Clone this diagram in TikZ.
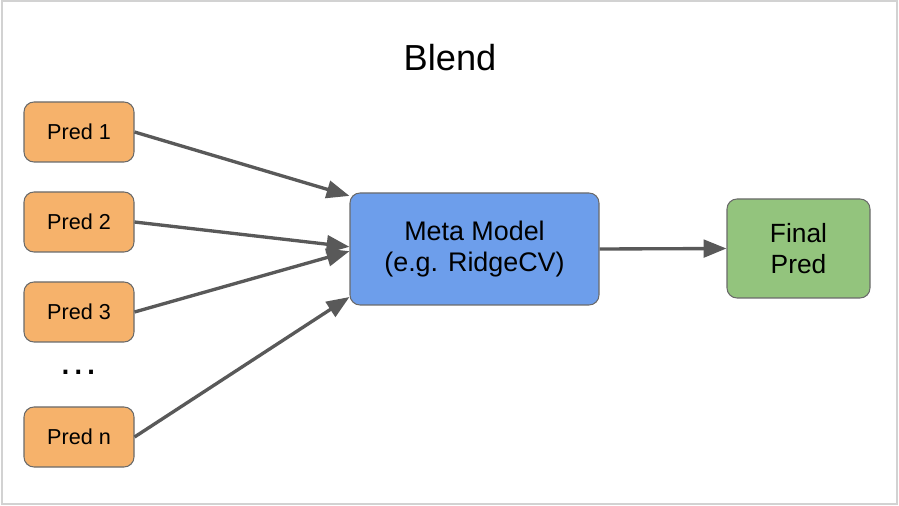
\documentclass[tikz,border=0pt]{standalone}
\usepackage{fontspec}
\setmainfont{Liberation Sans}
\usepackage{tikz}
\usetikzlibrary{arrows.meta}

\definecolor{predorange}{HTML}{F6B26B}
\definecolor{metablue}{HTML}{6D9EEB}
\definecolor{finalgreen}{HTML}{93C47D}
\definecolor{edgegray}{HTML}{595959}

\begin{document}
\begin{tikzpicture}[
        box/.style={draw=edgegray!90, line width=0.6pt, rounded corners=0.2cm, align=center, inner sep=0pt},
        pred/.style={box, fill=predorange, minimum width=2.2cm, minimum height=1.2cm, font=\fontsize{12.3}{14}\selectfont},
        feed/.style={draw=edgegray, line width=1.9pt, -{Triangle[length=13pt,width=10pt]}}
    ]
        \useasboundingbox (0,0) rectangle (17.98,10.1);
        \draw[gray!35, line width=0.8pt] (0.04,0.02) rectangle (17.94,10.08);
        \node[anchor=base, font=\fontsize{20.6}{24}\selectfont](title)at(9.0,8.68){Blend};
        \node[pred](p1)at(1.58,7.46){Pred 1};
        \node[pred](p2)at(1.58,5.66){Pred 2};
        \node[pred](p3)at(1.58,3.86){Pred 3};
        \node[anchor=base, font=\fontsize{23}{26}\selectfont](dots)at(1.58,2.6){…};
        \node[pred](pn)at(1.58,1.36){Pred n};
        \node[box, fill=metablue, minimum width=4.98cm, minimum height=2.24cm, font=\fontsize{15.3}{18}\selectfont](meta)at(9.49,5.12){Meta Model\\(e.g. RidgeCV)};
        \node[box, fill=finalgreen, minimum width=2.86cm, minimum height=1.98cm, font=\fontsize{15}{18}\selectfont](final)at(15.97,5.13){Final\\Pred};
        \draw[feed] (p1.east) -- (meta.157);
        \draw[feed] (p2.east) -- (meta.179);
        \draw[feed] (p3.east) -- (meta.181);
        \draw[feed] (pn.east) -- (meta.201.5);
        \draw[feed] (meta.east) -- (final.west);
    \end{tikzpicture}
\end{document}
